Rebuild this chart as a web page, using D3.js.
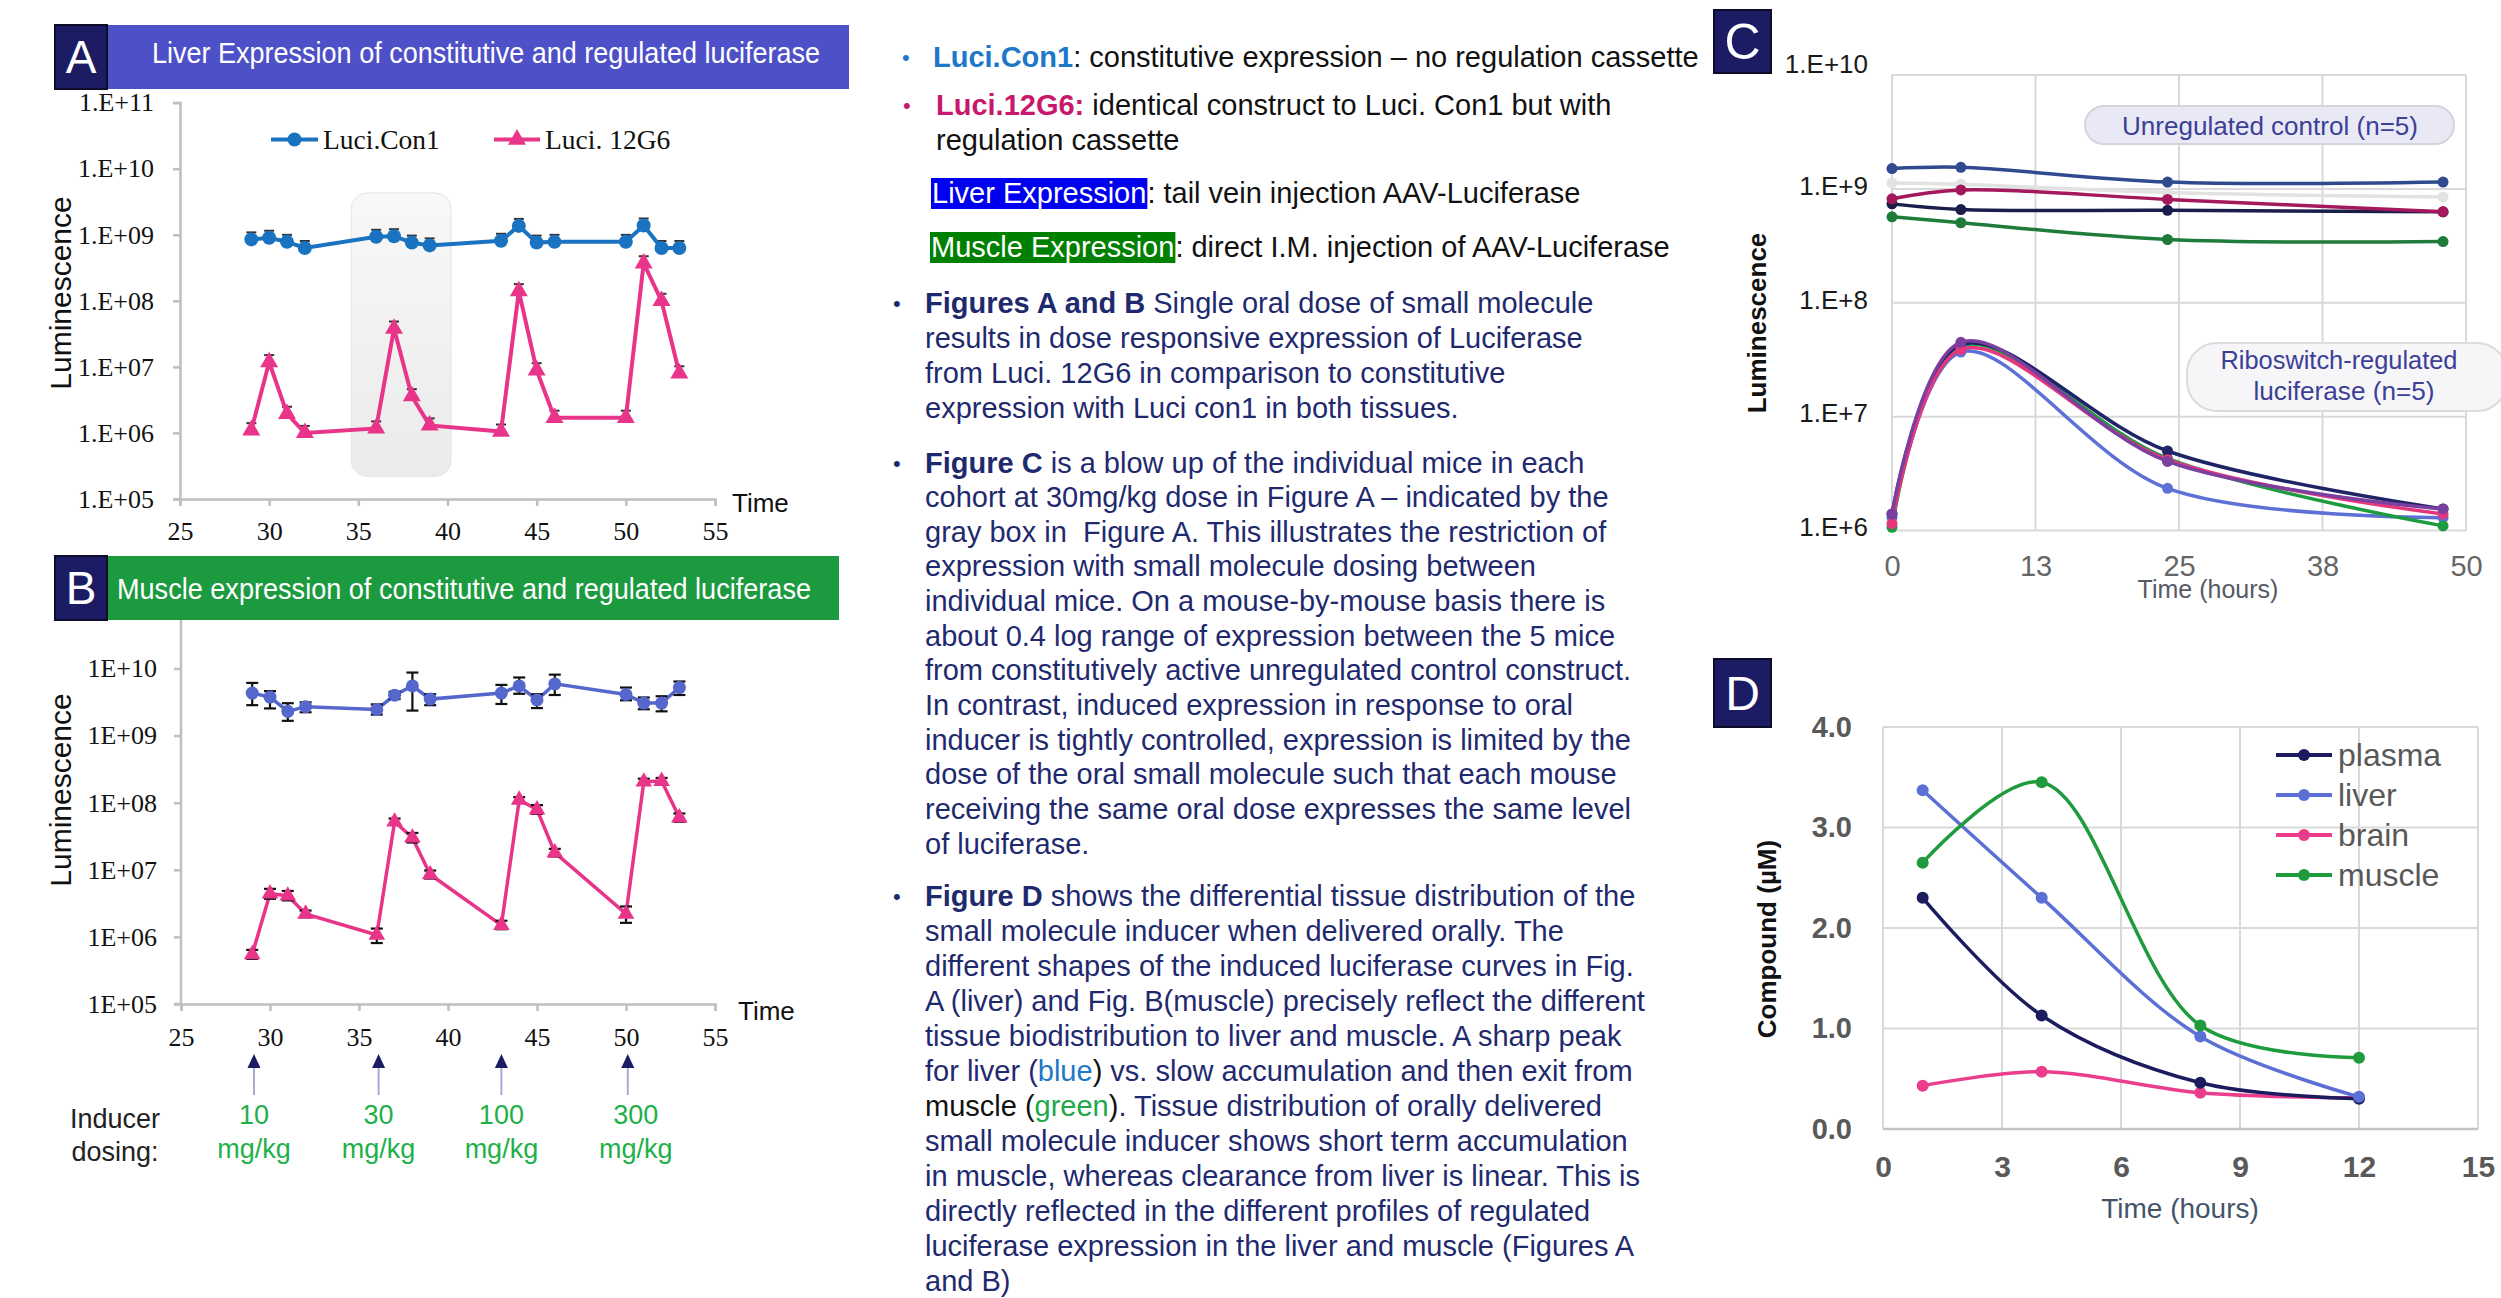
<!DOCTYPE html>
<html>
<head>
<meta charset="utf-8">
<script src="https://cdn.jsdelivr.net/npm/d3@7"></script>
<style>
  html, body { margin: 0; background: #fff; }
  svg { display: block; }
</style>
</head>
<body>
<svg id="fig" width="2501" height="1298"></svg>
<script>
// ------------------------------------------------------------------
// Data
// ------------------------------------------------------------------
// Panels A and B: study day of each imaging session
const days = [29, 30, 31, 32, 36, 37, 38, 39, 43, 44, 45, 46, 50, 51, 52, 53];

// Panel A: liver luminescence
const liverCon1 = [8.5e8, 9.0e8, 7.8e8, 6.3e8, 9.3e8, 9.5e8, 7.6e8, 6.9e8,
                   8.1e8, 1.36e9, 7.6e8, 7.8e8, 7.8e8, 1.38e9, 6.3e8, 6.3e8];
const liver12G6 = [1.1e6, 1.18e7, 1.95e6, 1.0e6, 1.17e6, 3.8e7, 3.6e6, 1.3e6,
                   1.05e6, 1.4e8, 8.9e6, 1.7e6, 1.7e6, 3.7e8, 1.0e8, 8.0e6];
// window of the 30 mg/kg cohort that is expanded in panel C
const highlightDays = [34.6, 40.2];
const highlightLum = [2.2e5, 4.3e9];

// Panel B: muscle luminescence with error bar limits
const muscleCon1 = [4.3e9, 3.75e9, 2.3e9, 2.7e9, 2.45e9, 4.0e9, 5.5e9, 3.5e9,
                    4.3e9, 5.5e9, 3.4e9, 5.9e9, 4.1e9, 3.05e9, 3.05e9, 5.2e9];
const muscleCon1High = [6.1e9, 4.6e9, 3.04e9, 3.13e9, 2.92e9, 4.5e9, 8.7e9, 4.14e9,
                        5.7e9, 7.35e9, 4.14e9, 8.1e9, 5.2e9, 3.7e9, 3.86e9, 6.4e9];
const muscleCon1Low = [2.84e9, 2.54e9, 1.66e9, 2.23e9, 2.06e9, 3.5e9, 2.36e9, 2.84e9,
                       2.96e9, 4.2e9, 2.57e9, 4.03e9, 3.36e9, 2.47e9, 2.3e9, 4.03e9];
const muscle12G6 = [5.5e5, 4.4e6, 4.1e6, 2.2e6, 1.07e6, 5.2e7, 3.0e7, 8.5e6,
                    1.5e6, 1.1e8, 7.9e7, 1.8e7, 2.2e6, 2.05e8, 2.1e8, 6.0e7];
const muscle12G6High = [6.4e5, 5.2e6, 4.84e6, 2.47e6, 1.33e6, 5.8e7, 3.54e7, 9.75e6,
                        1.74e6, 1.21e8, 9.2e7, 2.05e7, 2.84e6, 2.28e8, 2.34e8, 6.9e7];
const muscle12G6Low = [4.7e5, 3.7e6, 3.5e6, 1.96e6, 8.1e5, 4.7e7, 2.55e7, 7.4e6,
                       1.3e6, 1.0e8, 6.8e7, 1.58e7, 1.62e6, 1.84e8, 1.88e8, 5.2e7];

// Inducer doses (day given, label)
const doseDays = [29.1, 36.1, 43.0, 50.1];
const doseLabels = ["10", "30", "100", "300"];

// Panel C: individual mice, 30 mg/kg cohort
const cHours = [0, 6, 24, 48];
const ctrlMouse1 = [1.51e9, 1.55e9, 1.15e9, 1.15e9];
const ctrlMouse2 = [1.13e9, 1.1e9, 9.3e8, 8.5e8];
const ctrlMouse3 = [8.2e8, 9.8e8, 8.1e8, 6.3e8];
const ctrlMouse4 = [7.4e8, 6.6e8, 6.5e8, 6.3e8];
const ctrlMouse5 = [5.7e8, 5.05e8, 3.6e8, 3.45e8];
const riboMouse1 = [1.4e6, 4.3e7, 5.0e6, 1.55e6];
const riboMouse2 = [1.3e6, 3.7e7, 2.35e6, 1.3e6];
const riboMouse3 = [1.15e6, 3.9e7, 4.2e6, 1.4e6];
const riboMouse4 = [1.07e6, 4.2e7, 4.3e6, 1.1e6];
const riboMouse5 = [1.4e6, 4.5e7, 4.05e6, 1.55e6];
const cTickValues = [0, 12.5, 25, 37.5, 50];

// Panel D: compound concentration (µM) after oral dosing
const dHours = [1, 4, 8, 12];
const plasmaConc = [2.30, 1.13, 0.46, 0.30];
const liverConc = [3.37, 2.30, 0.92, 0.32];
const brainConc = [0.43, 0.57, 0.36, 0.31];
const muscleConc = [2.65, 3.45, 1.03, 0.71];
const dTissues = ["plasma", "liver", "brain", "muscle"];

const decadeTicks = [1e5, 1e6, 1e7, 1e8, 1e9, 1e10, 1e11];

// ------------------------------------------------------------------
// Drawing helpers
// ------------------------------------------------------------------
const SANS = "'Liberation Sans', Arial, Helvetica, sans-serif";
const SERIF = "'Liberation Serif', 'Times New Roman', serif";
const NARROW = "'Liberation Sans Narrow', 'Arial Narrow', 'Liberation Sans', Arial, sans-serif";
const NAVY_BOX = "#1c1c64";

const svg = d3.select("#fig");
const defs = svg.append("defs");

const zip = (xs, ys) => xs.map((x, i) => [x, ys[i]]);
const expLabel = prefix => v => prefix + String(Math.round(Math.log10(v))).padStart(2, "0");
const expLabelShort = prefix => v => prefix + Math.round(Math.log10(v));

function letterBox(x, y, w, h, letter, size) {
  svg.append("rect").attr("x", x).attr("y", y).attr("width", w).attr("height", h)
    .attr("fill", NAVY_BOX).attr("stroke", "#0d0d2a").attr("stroke-width", 2);
  svg.append("text").attr("x", x + w / 2).attr("y", y + h / 2)
    .attr("text-anchor", "middle").attr("dominant-baseline", "central")
    .attr("font-family", SANS).attr("font-size", size).attr("fill", "#fff")
    .text(letter);
}

function styleAxis(g, opts) {
  g.select(".domain").attr("stroke", opts.line).attr("stroke-width", opts.width || 2.5);
  g.selectAll(".tick line").attr("stroke", opts.line).attr("stroke-width", opts.width || 2.5);
  g.selectAll(".tick text").attr("font-family", opts.font).attr("font-size", opts.size)
    .attr("fill", opts.color).attr("font-weight", opts.weight || "normal");
  g.attr("font-family", null).attr("font-size", null);
}

// ------------------------------------------------------------------
// Panel A – liver expression
// ------------------------------------------------------------------
(function panelA() {
  const x = d3.scaleLinear().domain([25, 55]).range([180, 715]);
  const y = d3.scaleLog().domain([1e5, 1e11]).range([499, 102.6]);

  const grad = defs.append("linearGradient").attr("id", "boxGrad")
    .attr("x1", 0).attr("y1", 0).attr("x2", 0).attr("y2", 1);
  grad.append("stop").attr("offset", "0%").attr("stop-color", "#f8f8f8");
  grad.append("stop").attr("offset", "100%").attr("stop-color", "#ebebeb");

  svg.append("rect")
    .attr("x", x(highlightDays[0])).attr("y", y(highlightLum[1]))
    .attr("width", x(highlightDays[1]) - x(highlightDays[0]))
    .attr("height", y(highlightLum[0]) - y(highlightLum[1]))
    .attr("rx", 16).attr("fill", "url(#boxGrad)").attr("stroke", "#e4e4e4");

  const ya = svg.append("g").attr("transform", `translate(${x(25)},0)`)
    .call(d3.axisLeft(y).tickValues(decadeTicks).tickFormat(expLabel("1.E+")).tickSize(7).tickPadding(19));
  styleAxis(ya, { line: "#bfbfbf", font: SERIF, size: 26, color: "#111" });

  const xa = svg.append("g").attr("transform", `translate(0,${y(1e5)})`)
    .call(d3.axisBottom(x).tickValues(d3.range(25, 56, 5)).tickSize(7).tickPadding(16));
  styleAxis(xa, { line: "#bfbfbf", font: SERIF, size: 26, color: "#111" });

  svg.append("text").attr("x", 732).attr("y", 512).attr("font-family", SANS)
    .attr("font-size", 26).attr("fill", "#111").text("Time");

  svg.append("text").attr("transform", "translate(71,293) rotate(-90)")
    .attr("text-anchor", "middle").attr("font-family", SANS).attr("font-size", 30)
    .attr("fill", "#111").text("Luminescence");

  const line = d3.line().x(d => x(d[0])).y(d => y(d[1]));
  const con = zip(days, liverCon1), reg = zip(days, liver12G6);
  // small error caps
  const caps = svg.append("g").attr("stroke", "#333").attr("stroke-width", 2);
  [con, reg].forEach(s => s.forEach(d => {
    caps.append("line").attr("x1", x(d[0]) - 5).attr("x2", x(d[0]) + 5)
      .attr("y1", y(d[1] * 1.15) - 3).attr("y2", y(d[1] * 1.15) - 3);
  }));
  svg.append("path").datum(con).attr("d", line).attr("fill", "none")
    .attr("stroke", "#1a73c0").attr("stroke-width", 4);
  svg.append("path").datum(reg).attr("d", line).attr("fill", "none")
    .attr("stroke", "#e8358a").attr("stroke-width", 4);
  svg.append("g").selectAll("circle").data(con).join("circle")
    .attr("cx", d => x(d[0])).attr("cy", d => y(d[1])).attr("r", 7).attr("fill", "#1a73c0");
  svg.append("g").selectAll("path").data(reg).join("path")
    .attr("transform", d => `translate(${x(d[0])},${y(d[1])})`)
    .attr("d", d3.symbol(d3.symbolTriangle, 140)).attr("fill", "#e8358a");

  // legend
  const lg = svg.append("g");
  lg.append("line").attr("x1", 271).attr("x2", 318).attr("y1", 139.5).attr("y2", 139.5)
    .attr("stroke", "#1a73c0").attr("stroke-width", 4);
  lg.append("circle").attr("cx", 294.5).attr("cy", 139.5).attr("r", 7).attr("fill", "#1a73c0");
  lg.append("text").attr("x", 323).attr("y", 148.5).attr("font-family", SERIF)
    .attr("font-size", 27.5).attr("fill", "#111").text("Luci.Con1");
  lg.append("line").attr("x1", 494).attr("x2", 540).attr("y1", 139.5).attr("y2", 139.5)
    .attr("stroke", "#e8358a").attr("stroke-width", 4);
  lg.append("path").attr("transform", "translate(517,139.5)")
    .attr("d", d3.symbol(d3.symbolTriangle, 140)).attr("fill", "#e8358a");
  lg.append("text").attr("x", 545).attr("y", 148.5).attr("font-family", SERIF)
    .attr("font-size", 27.5).attr("fill", "#111").text("Luci. 12G6");

  // header
  svg.append("rect").attr("x", 55).attr("y", 25).attr("width", 794).attr("height", 64).attr("fill", "#4e50c8");
  letterBox(55, 25, 52, 64, "A", 46);
  svg.append("text").attr("x", 152).attr("y", 63).attr("font-family", NARROW)
    .attr("font-size", 29).attr("fill", "#fff").attr("textLength", 668)
    .attr("lengthAdjust", "spacingAndGlyphs")
    .text("Liver Expression of constitutive and regulated luciferase");
})();

// ------------------------------------------------------------------
// Panel B – muscle expression
// ------------------------------------------------------------------
(function panelB() {
  const x = d3.scaleLinear().domain([25, 55]).range([181, 715]);
  const y = d3.scaleLog().domain([1e5, 1e11]).range([1004, 601.4]);

  const ya = svg.append("g").attr("transform", `translate(${x(25)},0)`)
    .call(d3.axisLeft(y).tickValues(decadeTicks.slice(0, 6)).tickFormat(expLabel("1E+")).tickSize(7).tickPadding(17));
  styleAxis(ya, { line: "#bfbfbf", font: SERIF, size: 26, color: "#111" });
  ya.select(".domain").attr("d", `M-7,${y(1e5)}H0V${y(1e11)}`);

  const xa = svg.append("g").attr("transform", `translate(0,${y(1e5)})`)
    .call(d3.axisBottom(x).tickValues(d3.range(25, 56, 5)).tickSize(7).tickPadding(17));
  styleAxis(xa, { line: "#bfbfbf", font: SERIF, size: 26, color: "#111" });

  svg.append("text").attr("x", 738).attr("y", 1020).attr("font-family", SANS)
    .attr("font-size", 26).attr("fill", "#111").text("Time");
  svg.append("text").attr("transform", "translate(71,790) rotate(-90)")
    .attr("text-anchor", "middle").attr("font-family", SANS).attr("font-size", 30)
    .attr("fill", "#111").text("Luminescence");

  const line = d3.line().x(d => x(d[0])).y(d => y(d[1]));
  const series = [
    { v: muscleCon1, hi: muscleCon1High, lo: muscleCon1Low, c: "#5566cc", sym: "circle" },
    { v: muscle12G6, hi: muscle12G6High, lo: muscle12G6Low, c: "#e8358a", sym: "tri" }
  ];
  series.forEach(s => {
    const pts = zip(days, s.v);
    svg.append("path").datum(pts).attr("d", line).attr("fill", "none")
      .attr("stroke", s.c).attr("stroke-width", 3.5);
    const eb = svg.append("g").attr("stroke", "#111").attr("stroke-width", 2.2);
    days.forEach((dd, i) => {
      const cx = x(dd);
      eb.append("line").attr("x1", cx).attr("x2", cx).attr("y1", y(s.hi[i])).attr("y2", y(s.lo[i]));
      eb.append("line").attr("x1", cx - 6).attr("x2", cx + 6).attr("y1", y(s.hi[i])).attr("y2", y(s.hi[i]));
      eb.append("line").attr("x1", cx - 6).attr("x2", cx + 6).attr("y1", y(s.lo[i])).attr("y2", y(s.lo[i]));
    });
    if (s.sym === "circle") {
      svg.append("g").selectAll("circle").data(pts).join("circle")
        .attr("cx", d => x(d[0])).attr("cy", d => y(d[1])).attr("r", 6.5).attr("fill", s.c);
    } else {
      svg.append("g").selectAll("path").data(pts).join("path")
        .attr("transform", d => `translate(${x(d[0])},${y(d[1])})`)
        .attr("d", d3.symbol(d3.symbolTriangle, 120)).attr("fill", s.c);
    }
  });

  // header (drawn over the top of the axis)
  svg.append("rect").attr("x", 55).attr("y", 556).attr("width", 784).attr("height", 64).attr("fill", "#1c9a3f");
  letterBox(55, 556, 52, 64, "B", 46);
  svg.append("text").attr("x", 117).attr("y", 599).attr("font-family", NARROW)
    .attr("font-size", 29).attr("fill", "#fff").attr("textLength", 694)
    .attr("lengthAdjust", "spacingAndGlyphs")
    .text("Muscle expression of constitutive and regulated luciferase");

  // inducer dosing arrows and labels
  const dg = svg.append("g");
  doseDays.forEach((dd, i) => {
    const cx = x(dd);
    dg.append("line").attr("x1", cx).attr("x2", cx).attr("y1", 1064).attr("y2", 1095)
      .attr("stroke", "#a9a9d2").attr("stroke-width", 2);
    dg.append("path").attr("d", `M${cx},1054L${cx + 6.5},1068L${cx - 6.5},1068Z`).attr("fill", NAVY_BOX);
    const lx = cx + (i === 3 ? 8 : 0);
    dg.append("text").attr("x", lx).attr("y", 1124).attr("text-anchor", "middle")
      .attr("font-family", NARROW).attr("font-size", 27).attr("fill", "#22b04a").text(doseLabels[i]);
    dg.append("text").attr("x", lx).attr("y", 1158).attr("text-anchor", "middle")
      .attr("font-family", NARROW).attr("font-size", 27).attr("fill", "#22b04a").text("mg/kg");
  });
  dg.append("text").attr("x", 115).attr("y", 1128).attr("text-anchor", "middle")
    .attr("font-family", NARROW).attr("font-size", 27).attr("fill", "#222").text("Inducer");
  dg.append("text").attr("x", 115).attr("y", 1161).attr("text-anchor", "middle")
    .attr("font-family", NARROW).attr("font-size", 27).attr("fill", "#222").text("dosing:");
})();

// ------------------------------------------------------------------
// Middle column – explanatory text
// ------------------------------------------------------------------
(function textColumn() {
  const FS = 29;
  const styles = {
    k: { fill: "#111" },
    n: { fill: "#1f2a6e" },
    nb: { fill: "#1f2a6e", weight: "bold" },
    cb: { fill: "#1e78c8", weight: "bold" },
    mb: { fill: "#c8186c", weight: "bold" },
    bl: { fill: "#1e78c8" },
    gr: { fill: "#22a84a" }
  };
  function writeLine(x, cy, segs) {
    const t = svg.append("text").attr("x", x).attr("y", cy + 10)
      .attr("font-family", SANS).attr("font-size", FS).attr("xml:space", "preserve");
    segs.forEach(([s, st]) => {
      const sty = styles[st];
      t.append("tspan").attr("fill", sty.fill).attr("font-weight", sty.weight || "normal").text(s);
    });
    return t;
  }
  function bullet(x, cy, color) {
    svg.append("text").attr("x", x).attr("y", cy + 8).attr("font-family", SANS)
      .attr("font-size", 22).attr("fill", color).text("•");
  }

  bullet(902, 57, "#1e78c8");
  writeLine(933, 57, [["Luci.Con1", "cb"], [": constitutive expression – no regulation cassette", "k"]]);
  bullet(903, 105, "#c8186c");
  writeLine(936, 105, [["Luci.12G6:", "mb"], [" identical construct to Luci. Con1 but with", "k"]]);
  writeLine(936, 140, [["regulation cassette", "k"]]);

  function highlighted(x, cy, label, bg, rest) {
    const t = svg.append("text").attr("x", x + 1).attr("y", cy + 10)
      .attr("font-family", SANS).attr("font-size", FS).attr("fill", "#fff").text(label);
    const w = t.node().getComputedTextLength();
    svg.insert("rect", () => t.node()).attr("x", x).attr("y", cy - 15).attr("width", w + 2)
      .attr("height", 31).attr("fill", bg);
    svg.append("text").attr("x", x + w + 2).attr("y", cy + 10).attr("font-family", SANS)
      .attr("font-size", FS).attr("fill", "#111").text(rest);
  }
  highlighted(931, 193, "Liver Expression", "#0000f0", ": tail vein injection AAV-Luciferase");
  highlighted(930, 247, "Muscle Expression", "#008000", ": direct I.M. injection of AAV-Luciferase");

  const paragraphs = [
    { y0: 303, step: 35, lines: [
      [["Figures A and B", "nb"], [" Single oral dose of small molecule", "n"]],
      [["results in dose responsive expression of Luciferase", "n"]],
      [["from Luci. 12G6 in comparison to constitutive", "n"]],
      [["expression with Luci con1 in both tissues.", "n"]]
    ]},
    { y0: 462.5, step: 34.65, lines: [
      [["Figure C", "nb"], [" is a blow up of the individual mice in each", "n"]],
      [["cohort at 30mg/kg dose in Figure A – indicated by the", "n"]],
      [["gray box in  Figure A. This illustrates the restriction of", "n"]],
      [["expression with small molecule dosing between", "n"]],
      [["individual mice. On a mouse-by-mouse basis there is", "n"]],
      [["about 0.4 log range of expression between the 5 mice", "n"]],
      [["from constitutively active unregulated control construct.", "n"]],
      [["In contrast, induced expression in response to oral", "n"]],
      [["inducer is tightly controlled, expression is limited by the", "n"]],
      [["dose of the oral small molecule such that each mouse", "n"]],
      [["receiving the same oral dose expresses the same level", "n"]],
      [["of luciferase.", "n"]]
    ]},
    { y0: 896.4, step: 35.0, lines: [
      [["Figure D", "nb"], [" shows the differential tissue distribution of the", "n"]],
      [["small molecule inducer when delivered orally. The", "n"]],
      [["different shapes of the induced luciferase curves in Fig.", "n"]],
      [["A (liver) and Fig. B(muscle) precisely reflect the different", "n"]],
      [["tissue biodistribution to liver and muscle. A sharp peak", "n"]],
      [["for liver (", "n"], ["blue", "bl"], [")", "k"], [" vs. slow accumulation and then exit from", "n"]],
      [["muscle (", "k"], ["green", "gr"], [")", "k"], [". Tissue distribution of orally delivered", "n"]],
      [["small molecule inducer shows short term accumulation", "n"]],
      [["in muscle, whereas clearance from liver is linear. This is", "n"]],
      [["directly reflected in the different profiles of regulated", "n"]],
      [["luciferase expression in the liver and muscle (Figures A", "n"]],
      [["and B)", "n"]]
    ]}
  ];
  paragraphs.forEach(p => {
    bullet(893, p.y0, "#1f2a6e");
    p.lines.forEach((segs, i) => writeLine(925, p.y0 + i * p.step, segs));
  });
})();

// ------------------------------------------------------------------
// Panel C – individual mice, 30 mg/kg
// ------------------------------------------------------------------
(function panelC() {
  const x = d3.scaleLinear().domain([0, 50]).range([1892, 2466]);
  const y = d3.scaleLog().domain([1e6, 1e10]).range([530.6, 75.1]);
  const grid = svg.append("g").attr("stroke", "#d9d9d9").attr("stroke-width", 2);
  cTickValues.forEach(t => grid.append("line").attr("x1", x(t)).attr("x2", x(t)).attr("y1", y(1e10)).attr("y2", y(1e6)));
  [1e6, 1e7, 1e8, 1e9, 1e10].forEach(v => grid.append("line").attr("x1", x(0)).attr("x2", x(50)).attr("y1", y(v)).attr("y2", y(v)));

  const ya = svg.append("g").attr("transform", `translate(${x(0)},0)`)
    .call(d3.axisLeft(y).tickValues([1e6, 1e7, 1e8, 1e9, 1e10]).tickFormat(expLabelShort("1.E+")).tickSize(0).tickPadding(24));
  styleAxis(ya, { line: "none", font: SANS, size: 26, color: "#1a1a1a" });
  ya.select(".domain").remove();
  ya.selectAll(".tick text").attr("dy", (d) => d === 1e10 ? "-0.1em" : "0.2em");

  const xa = svg.append("g").attr("transform", `translate(0,${y(1e6)})`)
    .call(d3.axisBottom(x).tickValues(cTickValues).tickFormat(d => d.toFixed(0)).tickSize(0).tickPadding(25));
  xa.select(".domain").remove();
  styleAxis(xa, { line: "none", font: SANS, size: 29, color: "#666" });

  svg.append("text").attr("x", 2208).attr("y", 598).attr("text-anchor", "middle")
    .attr("font-family", NARROW).attr("font-size", 25).attr("fill", "#555a66").text("Time (hours)");
  svg.append("text").attr("transform", "translate(1766,323) rotate(-90)")
    .attr("text-anchor", "middle").attr("font-family", SANS).attr("font-size", 26)
    .attr("font-weight", "bold").attr("fill", "#111").text("Luminescence");

  const line = d3.line().x(d => x(d[0])).y(d => y(d[1])).curve(d3.curveCatmullRom.alpha(0.5));
  const mice = [
    { v: ctrlMouse2, c: "#e2e2e2" },
    { v: ctrlMouse5, c: "#1e7b3a" },
    { v: ctrlMouse4, c: "#1b1d4a" },
    { v: ctrlMouse3, c: "#a3195b" },
    { v: ctrlMouse1, c: "#2f4a8f" },
    { v: riboMouse2, c: "#5c70d6" },
    { v: riboMouse4, c: "#1c9b40" },
    { v: riboMouse1, c: "#1f2466" },
    { v: riboMouse3, c: "#e6367c" },
    { v: riboMouse5, c: "#7b3fa0" }
  ];
  mice.forEach(m => {
    const pts = zip(cHours, m.v);
    svg.append("path").datum(pts).attr("d", line).attr("fill", "none")
      .attr("stroke", m.c).attr("stroke-width", 3.5);
    svg.append("g").selectAll("circle").data(pts).join("circle")
      .attr("cx", d => x(d[0])).attr("cy", d => y(d[1])).attr("r", 5.5).attr("fill", m.c);
  });

  // annotation pills
  svg.append("rect").attr("x", 2085).attr("y", 106).attr("width", 369).attr("height", 38)
    .attr("rx", 19).attr("fill", "#e8e9f5").attr("stroke", "#d4d4dc").attr("stroke-width", 2);
  svg.append("text").attr("x", 2270).attr("y", 135).attr("text-anchor", "middle")
    .attr("font-family", NARROW).attr("font-size", 26).attr("fill", "#3b4096")
    .attr("textLength", 296).attr("lengthAdjust", "spacingAndGlyphs").text("Unregulated control (n=5)");
  svg.append("rect").attr("x", 2187).attr("y", 343).attr("width", 320).attr("height", 68)
    .attr("rx", 30).attr("fill", "#f6f6f9").attr("stroke", "#dcdcdc").attr("stroke-width", 2);
  svg.append("text").attr("x", 2339).attr("y", 369).attr("text-anchor", "middle")
    .attr("font-family", NARROW).attr("font-size", 26).attr("fill", "#3b4096")
    .attr("textLength", 237).attr("lengthAdjust", "spacingAndGlyphs").text("Riboswitch-regulated");
  svg.append("text").attr("x", 2344).attr("y", 400).attr("text-anchor", "middle")
    .attr("font-family", NARROW).attr("font-size", 26).attr("fill", "#3b4096")
    .attr("textLength", 181).attr("lengthAdjust", "spacingAndGlyphs").text("luciferase (n=5)");

  letterBox(1714, 10, 57, 63, "C", 50);
})();

// ------------------------------------------------------------------
// Panel D – tissue distribution of the inducer
// ------------------------------------------------------------------
(function panelD() {
  const x = d3.scaleLinear().domain([0, 15]).range([1883, 2478]);
  const y = d3.scaleLinear().domain([0, 4]).range([1129, 727]);
  const grid = svg.append("g").attr("stroke", "#d9d9d9").attr("stroke-width", 2);
  d3.range(0, 16, 3).forEach(t => grid.append("line").attr("x1", x(t)).attr("x2", x(t)).attr("y1", y(4)).attr("y2", y(0)));
  d3.range(0, 5, 1).forEach(v => grid.append("line").attr("x1", x(0)).attr("x2", x(15)).attr("y1", y(v)).attr("y2", y(v)));
  svg.append("line").attr("x1", x(0)).attr("x2", x(15)).attr("y1", y(0)).attr("y2", y(0))
    .attr("stroke", "#c4c4c4").attr("stroke-width", 2.5);

  const ya = svg.append("g").attr("transform", `translate(${x(0)},0)`)
    .call(d3.axisLeft(y).tickValues([0, 1, 2, 3, 4]).tickFormat(d3.format(".1f")).tickSize(0).tickPadding(31));
  ya.select(".domain").remove();
  styleAxis(ya, { line: "none", font: SANS, size: 29, color: "#595959", weight: "bold" });

  const xa = svg.append("g").attr("transform", `translate(0,${y(0)})`)
    .call(d3.axisBottom(x).tickValues(d3.range(0, 16, 3)).tickFormat(d3.format("d")).tickSize(0).tickPadding(27));
  xa.select(".domain").remove();
  styleAxis(xa, { line: "none", font: SANS, size: 30, color: "#595959", weight: "bold" });

  svg.append("text").attr("x", 2180).attr("y", 1218).attr("text-anchor", "middle")
    .attr("font-family", NARROW).attr("font-size", 28).attr("fill", "#44546a").text("Time (hours)");
  svg.append("text").attr("transform", "translate(1776,939) rotate(-90)")
    .attr("text-anchor", "middle").attr("font-family", SANS).attr("font-size", 26)
    .attr("font-weight", "bold").attr("fill", "#111").text("Compound (µM)");

  const line = d3.line().x(d => x(d[0])).y(d => y(d[1])).curve(d3.curveCatmullRom.alpha(0.5));
  const tissues = [
    { v: brainConc, c: "#ea3d8c" },
    { v: plasmaConc, c: "#1b1c5e" },
    { v: liverConc, c: "#5b6fd4" },
    { v: muscleConc, c: "#1f9b3e" }
  ];
  tissues.forEach(t => {
    const pts = zip(dHours, t.v);
    svg.append("path").datum(pts).attr("d", line).attr("fill", "none")
      .attr("stroke", t.c).attr("stroke-width", 3.5);
    svg.append("g").selectAll("circle").data(pts).join("circle")
      .attr("cx", d => x(d[0])).attr("cy", d => y(d[1])).attr("r", 6).attr("fill", t.c);
  });

  const legendColors = ["#1b1c5e", "#5b6fd4", "#ea3d8c", "#1f9b3e"];
  dTissues.forEach((name, i) => {
    const ly = 755 + i * 40;
    svg.append("line").attr("x1", 2276).attr("x2", 2332).attr("y1", ly).attr("y2", ly)
      .attr("stroke", legendColors[i]).attr("stroke-width", 4);
    svg.append("circle").attr("cx", 2304).attr("cy", ly).attr("r", 6).attr("fill", legendColors[i]);
    svg.append("text").attr("x", 2338).attr("y", ly + 11).attr("font-family", SANS)
      .attr("font-size", 32).attr("fill", "#595959").text(name);
  });

  letterBox(1714, 659, 57, 68, "D", 48);
})();
</script>
</body>
</html>
